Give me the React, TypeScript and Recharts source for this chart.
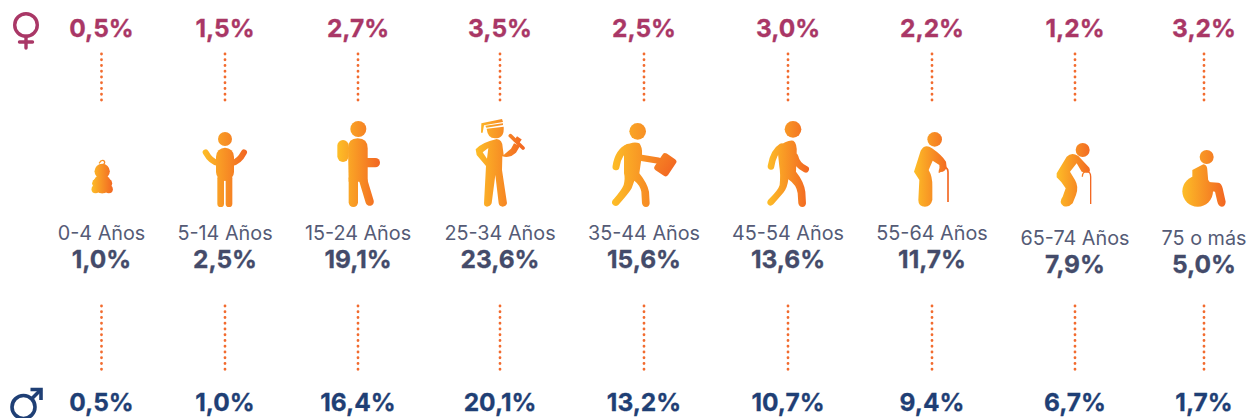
import { ScatterChart, Scatter, XAxis, YAxis, ReferenceLine } from "recharts"

const ageGroups = ["0-4 Años", "5-14 Años", "15-24 Años", "25-34 Años", "35-44 Años", "45-54 Años", "55-64 Años", "65-74 Años", "75 o más"]
const femaleValues = [0.5, 1.5, 2.7, 3.5, 2.5, 3.0, 2.2, 1.2, 3.2]
const totalValues = [1.0, 2.5, 19.1, 23.6, 15.6, 13.6, 11.7, 7.9, 5.0]
const maleValues = [0.5, 1.0, 16.4, 20.1, 13.2, 10.7, 9.4, 6.7, 1.7]

// layout only
const columnX = [101.5, 225, 358, 500, 644, 788, 932, 1075, 1204]
const labelNudge = [0, 0, 0, 0, 0, 0, 0, 5, 5]

const FONT = "Inter, sans-serif"
const PINK = "#A93766"
const NAVY = "#1F3F75"
const SLATE = "#444B6A"
const DOTS = "#F26B2E"

const fmt = (v: number) => v.toFixed(1).replace(".", ",") + "%"

const row = (vals: any[], y: number, nudge = false) =>
  vals.map((label, i) => ({
    x: columnX[i],
    y: y + (nudge ? labelNudge[i] : 0),
    label: typeof label === "number" ? fmt(label) : label,
    index: i,
  }))

const textShape = (size: number, weight: number, fill: string) => (p: any) => (
  <text
    x={p.cx}
    y={p.cy}
    textAnchor="middle"
    dominantBaseline="central"
    fontFamily={FONT}
    fontSize={size}
    fontWeight={weight}
    fill={fill}
    stroke={weight > 400 ? fill : "none"}
    strokeWidth={weight > 400 ? 0.3 : 0}
  >
    {p.payload.label}
  </text>
)

const Grad = ({ id, from, to }: { id: string; from: number; to: number }) => (
  <defs>
    <linearGradient id={id} gradientUnits="userSpaceOnUse" x1={from} x2={to} y1={0} y2={0}>
      <stop offset="0" stopColor="#FDBE27" />
      <stop offset="1" stopColor="#F26522" />
    </linearGradient>
  </defs>
)

// icons are traced in 3x zoom units, ox/oy is the anchor inside that drawing
const iconDefs: any[] = [
  {
    ox: 123, oy: 291, from: 92, to: 158,
    body: (f: string) => (
      <g fill={f}>
        <circle cx={125} cy={184} r={23} />
        <circle cx={125} cy={222} r={28} />
        <circle cx={108} cy={220} r={13} />
        <circle cx={142} cy={220} r={13} />
        <circle cx={105} cy={238} r={12} />
        <circle cx={145} cy={238} r={12} />
        <circle cx={125} cy={238} r={12} />
        <path d="M116,160 Q122,148 130,152 Q136,158 128,164" fill="none" stroke={f} strokeWidth={4} />
      </g>
    ),
  },
  {
    ox: 495, oy: 291, from: 427, to: 562,
    body: (f: string) => (
      <g fill={f}>
        <circle cx={495} cy={87} r={21} />
        <rect x={468} y={113} width={54} height={100} rx={27} />
        <g stroke={f} fill="none" strokeLinecap="round">
          <path d="M482,205 V281" strokeWidth={20} />
          <path d="M507,205 V281" strokeWidth={20} />
          <path d="M437,127 Q453,156 475,159" strokeWidth={18} />
          <path d="M552,127 Q537,156 515,159" strokeWidth={18} />
        </g>
      </g>
    ),
  },
  {
    ox: 894, oy: 291, from: 832, to: 960,
    body: (f: string) => (
      <g fill={f}>
        <circle cx={895} cy={57} r={24} />
        <rect x={832} y={90} width={34} height={66} rx={17} />
        <path d="M864,115 Q864,85 893,85 Q923,85 923,115 V215 H866 Z" />
        <g stroke={f} fill="none" strokeLinecap="round">
          <path d="M880,205 V277" strokeWidth={28} />
          <path d="M908,205 L929,275" strokeWidth={25} />
          <path d="M920,158 H946" strokeWidth={28} />
        </g>
      </g>
    ),
  },
  {
    ox: 180, oy: 291, from: 106, to: 254,
    body: (f: string) => (
      <g fill={f}>
        <path d="M140,56 L191,50 Q194,85 165,85 Q143,85 140,56 Z" />
        <path d="M124,40 L186,27 L189,36 L132,46 L128,68 L123,68 Z" />
        <path d="M136,47 L189,40 L189,45 L139,53 Z" />
        <path d="M107,118 Q125,97 170,87 Q187,88 188,112 L191,135 L213,116 L222,100 L240,108 L228,128 Q208,146 187,139 L186,180 L201,280 Q198,290 188,290 Q178,290 176,280 L166,195 L155,280 Q150,290 141,290 Q132,290 132,280 L138,168 L110,135 Z" />
        <path d="M145,114 L128,127 L141,146 Z" fill="#fff" />
        <path d="M211,77 L249,114" stroke={f} strokeWidth={11} strokeLinecap="round" />
        <path d="M226,86 L240,96" stroke={f} strokeWidth={18} />
      </g>
    ),
  },
  {
    ox: 612, oy: 291, from: 516, to: 708,
    body: (f: string) => (
      <g fill={f}>
        <circle cx={593} cy={64} r={25} />
        <path d="M552,108 Q580,92 598,100 Q608,112 606,135 L598,190 Q622,220 627,245 L629,280 Q628,291 618,291 Q608,291 606,280 L604,245 Q600,225 583,212 L575,235 Q568,248 535,285 Q525,292 517,282 Q513,274 522,266 Q545,240 551,225 Q556,205 552,190 Z" />
        <rect x={652} y={134} width={48} height={60} rx={9} transform="rotate(34 676 164)" />
        <g stroke={f} fill="none" strokeLinecap="round" strokeLinejoin="round">
          <path d="M565,112 Q535,125 528,170" strokeWidth={21} />
          <path d="M600,143 L655,152" strokeWidth={19} />
        </g>
      </g>
    ),
  },
  {
    ox: 1044, oy: 291, from: 980, to: 1108,
    body: (f: string) => (
      <g fill={f}>
        <circle cx={1059} cy={58} r={25} />
        <path d="M1012,112 Q1042,88 1060,92 Q1072,100 1070,130 L1068,185 Q1092,215 1096,245 L1098,280 Q1097,291 1087,291 Q1077,291 1075,280 L1073,250 Q1070,225 1045,208 Q1042,235 1030,248 Q1015,265 1000,283 Q990,292 983,282 Q979,274 988,266 Q1015,240 1019,225 Q1022,190 1018,170 Z" />
        <g stroke={f} fill="none" strokeLinecap="round" strokeLinejoin="round">
          <path d="M1025,110 Q1000,125 993,169" strokeWidth={20} />
          <path d="M1065,140 Q1070,165 1097,178" strokeWidth={20} />
        </g>
      </g>
    ),
  },
  {
    ox: 156, oy: 261, from: 102, to: 207,
    body: (f: string) => (
      <g fill={f}>
        <circle cx={164} cy={58} r={22} />
        <path d="M102,155 L122,92 Q135,70 156,85 Q185,105 198,125 L200,142 Q195,158 179,156 L178,135 L158,122 L146,150 Q158,170 157,200 L157,240 Q152,260 135,260 Q115,260 115,240 L118,180 Z" />
        <path d="M178,158 Q178,142 192,142 Q204,142 204,156 L204,246" fill="none" stroke={f} strokeWidth={5} />
      </g>
    ),
  },
  {
    ox: 585, oy: 261, from: 528, to: 636,
    body: (f: string) => (
      <g fill={f}>
        <circle cx={608} cy={90} r={21} />
        <path d="M530,160 L560,110 Q575,95 595,108 L628,143 Q634,158 620,158 L605,155 L590,130 L570,155 L585,180 Q597,200 588,225 L578,250 Q565,264 550,258 Q535,247 548,230 L557,205 Q545,185 530,172 Z" />
        <path d="M607,170 Q607,155 620,155 Q632,155 632,170 L632,252" fill="none" stroke={f} strokeWidth={4} />
      </g>
    ),
  },
  {
    ox: 972, oy: 261, from: 906, to: 1038,
    body: (f: string) => (
      <g fill={f}>
        <circle cx={980} cy={111} r={21} />
        <circle cx={953} cy={214} r={46} />
        <path d="M937,150 L970,133 Q982,135 982,150 L985,186 L1015,188 Q1025,190 1028,205 L1037,245 Q1036,260 1025,260 Q1015,258 1012,245 L1005,215 L975,210 L937,175 Z" />
      </g>
    ),
  },
]

const iconShape = (p: any) => {
  const i = p.payload.index
  const d = iconDefs[i]
  const id = "iconGrad" + i
  return (
    <g transform={`translate(${p.cx},${p.cy}) scale(${1 / 3}) translate(${-d.ox},${-d.oy})`}>
      <Grad id={id} from={d.from} to={d.to} />
      {d.body(`url(#${id})`)}
    </g>
  )
}

const femaleSymbol = (p: any) => (
  <g fill="none" stroke={PINK} strokeWidth={3.4} strokeLinecap="round" transform={`translate(${p.cx},${p.cy})`}>
    <circle cx={0} cy={0} r={11.3} />
    <path d="M0,11.3 V23 M-6.5,17 H6.5" />
  </g>
)

const maleSymbol = (p: any) => (
  <g fill="none" stroke={NAVY} strokeWidth={3.6} transform={`translate(${p.cx},${p.cy})`}>
    <circle cx={0} cy={0} r={11.5} />
    <path d="M8,-8 L17.5,-17.5" />
    <path d="M7,-17.5 H17.5 V-7" />
  </g>
)

export default function App() {
  return (
    <div style={{ position: "absolute", left: 0, top: 0, width: 1248, height: 418, background: "#fff" }}>
      <ScatterChart width={1248} height={418} margin={{ top: 0, right: 0, bottom: 0, left: 0 }}>
        <XAxis type="number" dataKey="x" domain={[0, 1248]} hide />
        <YAxis type="number" dataKey="y" domain={[0, 418]} reversed hide />

        {columnX.map((x) => (
          <ReferenceLine
            key={"top" + x}
            segment={[{ x, y: 54 }, { x, y: 101 }]}
            stroke={DOTS}
            strokeWidth={2.8}
            strokeDasharray="0 5.75"
            strokeLinecap="round"
          />
        ))}
        {columnX.map((x) => (
          <ReferenceLine
            key={"bottom" + x}
            segment={[{ x, y: 306 }, { x, y: 373 }]}
            stroke={DOTS}
            strokeWidth={2.8}
            strokeDasharray="0 5.75"
            strokeLinecap="round"
          />
        ))}

        <Scatter data={[{ x: 26, y: 25 }]} shape={femaleSymbol} isAnimationActive={false} />
        <Scatter data={[{ x: 23.5, y: 407 }]} shape={maleSymbol} isAnimationActive={false} />
        <Scatter data={row(femaleValues, 28)} shape={textShape(24.5, 700, PINK)} isAnimationActive={false} />
        <Scatter data={row(ageGroups, 232.5, true)} shape={textShape(19.8, 400, "#555B76")} isAnimationActive={false} />
        <Scatter data={row(ageGroups, 207)} shape={iconShape} isAnimationActive={false} />
        <Scatter data={row(totalValues, 259, true)} shape={textShape(24.5, 700, SLATE)} isAnimationActive={false} />
        <Scatter data={row(maleValues, 402)} shape={textShape(24.5, 700, NAVY)} isAnimationActive={false} />
      </ScatterChart>
    </div>
  )
}
